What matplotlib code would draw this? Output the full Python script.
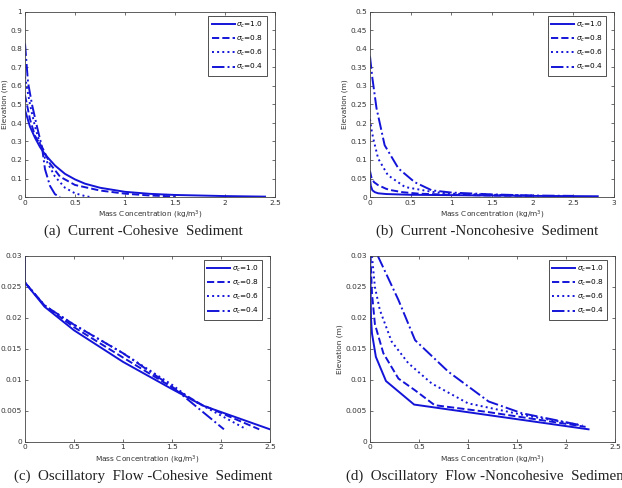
import numpy as np
import matplotlib
matplotlib.use('Agg')
from matplotlib import pyplot as plt
from matplotlib.ticker import FormatStrFormatter, MultipleLocator

# sigma_c values shown in every legend
sigmas = ['1.0', '0.8', '0.6', '0.4']
styles = ['-', '--', ':', '-.']

# (a) Current - Cohesive Sediment
a_x10 = [0, 0.05, 0.1, 0.15, 0.2, 0.3, 0.4, 0.5, 0.6, 0.75, 1.0, 1.25, 1.5, 2.0, 2.4]
a_y10 = [0.47, 0.38, 0.32, 0.27, 0.23, 0.17, 0.125, 0.095, 0.072, 0.05, 0.028, 0.017, 0.011, 0.005, 0.002]
a_x08 = [0, 0.05, 0.1, 0.18, 0.25, 0.35, 0.5, 0.75, 1.0, 1.25, 1.5]
a_y08 = [0.55, 0.42, 0.33, 0.26, 0.18, 0.11, 0.065, 0.035, 0.018, 0.008, 0.003]
a_x06 = [0, 0.05, 0.1, 0.15, 0.2, 0.3, 0.4, 0.5, 0.6, 0.65]
a_y06 = [0.65, 0.5, 0.38, 0.29, 0.21, 0.11, 0.05, 0.02, 0.005, 0.0]
a_x04 = [0, 0.03, 0.07, 0.12, 0.17, 0.2, 0.25, 0.3, 0.35]
a_y04 = [0.83, 0.62, 0.5, 0.38, 0.27, 0.15, 0.06, 0.015, 0.0]

# (b) Current - Noncohesive Sediment
b_x10 = [0, 0.01, 0.03, 0.06, 0.1, 0.2, 0.5, 1.0, 2.0, 2.8]
b_y10 = [0.05, 0.03, 0.018, 0.013, 0.01, 0.008, 0.006, 0.005, 0.003, 0.002]
b_x08 = [0, 0.02, 0.05, 0.1, 0.2, 0.27, 0.4, 0.6, 1.0, 1.5, 2.0]
b_y08 = [0.07, 0.05, 0.04, 0.032, 0.022, 0.018, 0.013, 0.009, 0.006, 0.004, 0.003]
b_x06 = [0, 0.02, 0.04, 0.1, 0.22, 0.43, 0.76, 1.0, 1.5, 2.0]
b_y06 = [0.21, 0.18, 0.158, 0.104, 0.059, 0.027, 0.014, 0.009, 0.006, 0.004]
b_x04 = [0, 0.03, 0.08, 0.18, 0.35, 0.55, 0.76, 1.0, 1.5, 2.0, 2.5]
b_y04 = [0.38, 0.32, 0.24, 0.14, 0.077, 0.04, 0.018, 0.012, 0.007, 0.004, 0.003]

# (c) Oscillatory Flow - Cohesive Sediment
c_x10 = [0, 0, 0.2, 0.5, 1.0, 1.5, 1.82, 2.5]
c_y10 = [0.03, 0.0257, 0.0218, 0.018, 0.0129, 0.0085, 0.0058, 0.002]
c_x08 = [0, 0, 0.2, 0.5, 1.0, 1.5, 1.8, 2.39]
c_y08 = [0.03, 0.0257, 0.022, 0.0185, 0.0136, 0.0088, 0.006, 0.002]
c_x06 = [0, 0, 0.2, 0.5, 1.0, 1.5, 1.7, 2.26]
c_y06 = [0.03, 0.0257, 0.022, 0.0189, 0.0143, 0.0092, 0.0068, 0.002]
c_x04 = [0, 0, 0.2, 0.5, 1.0, 1.5, 1.6, 2.03]
c_y04 = [0.03, 0.0257, 0.022, 0.0189, 0.0143, 0.0089, 0.0076, 0.002]

# (d) Oscillatory Flow - Noncohesive Sediment
d_x10 = [0.002, 0.01, 0.02, 0.06, 0.163, 0.45, 2.23]
d_y10 = [0.03, 0.02, 0.0175, 0.0137, 0.0098, 0.006, 0.002]
d_x08 = [0.005, 0.02, 0.05, 0.136, 0.29, 0.46, 0.66, 1.2, 2.2]
d_y08 = [0.03, 0.024, 0.019, 0.0143, 0.0102, 0.0083, 0.0059, 0.0048, 0.0024]
d_x06 = [0.02, 0.05, 0.1, 0.22, 0.39, 0.63, 1.0, 1.6, 2.17]
d_y06 = [0.03, 0.025, 0.0213, 0.0162, 0.0127, 0.0094, 0.0062, 0.0042, 0.0026]
d_x04 = [0.08, 0.29, 0.46, 0.8, 1.21, 1.55, 2.14]
d_y04 = [0.03, 0.0229, 0.0164, 0.0113, 0.0065, 0.0046, 0.0027]

captions = ['(a)  Current -Cohesive  Sediment',
            '(b)  Current -Noncohesive  Sediment',
            '(c)  Oscillatory  Flow -Cohesive  Sediment',
            '(d)  Oscillatory  Flow -Noncohesive  Sediment']

panels = [
    ([a_x10, a_x08, a_x06, a_x04], [a_y10, a_y08, a_y06, a_y04], 2.5, 1.0, 0.1),
    ([b_x10, b_x08, b_x06, b_x04], [b_y10, b_y08, b_y06, b_y04], 3.0, 0.5, 0.05),
    ([c_x10, c_x08, c_x06, c_x04], [c_y10, c_y08, c_y06, c_y04], 2.5, 0.03, 0.005),
    ([d_x10, d_x08, d_x06, d_x04], [d_y10, d_y08, d_y06, d_y04], 2.5, 0.03, 0.005),
]

rects = [[25/622, 291/488, 250/622, 185/488],
         [370/622, 291/488, 244/622, 185/488],
         [25/622, 46.3/488, 245/622, 185.7/488],
         [370/622, 46.3/488, 245/622, 185.7/488]]

cap_pos = [(0.230, 0.527, 'center'), (0.783, 0.527, 'center'),
           (0.230, 0.024, 'center'), (0.556, 0.024, 'left')]

blue = '#1414d8'
fs = 5.3

fig = plt.figure(figsize=(6.22, 4.88), dpi=100)
for k in range(4):
    xs, ys, xmax, ymax, ystep = panels[k]
    ax = fig.add_axes(rects[k])
    for i in range(4):
        ax.plot(xs[i], ys[i], linestyle=styles[i], color=blue, lw=1.4,
                label=r'$\sigma_c$=' + sigmas[i])
    ax.set_xlim(0, xmax)
    ax.set_ylim(0, ymax)
    ax.xaxis.set_major_locator(MultipleLocator(0.5))
    ax.yaxis.set_major_locator(MultipleLocator(ystep))
    ax.xaxis.set_major_formatter(FormatStrFormatter('%g'))
    ax.yaxis.set_major_formatter(FormatStrFormatter('%g'))
    ax.tick_params(direction='in', top=True, right=True, labelsize=fs,
                   length=2.5, width=0.5, pad=2, colors='#333333')
    for s in ax.spines.values():
        s.set_linewidth(0.6)
        s.set_color('#444444')
    ax.set_xlabel('Mass Concentration (kg/m$^3$)', fontsize=fs, labelpad=2, color='#333333')
    ax.set_ylabel('Elevation (m)', fontsize=fs, labelpad=2, color='#333333')
    leg = ax.legend(loc='upper right', bbox_to_anchor=(0.975, 0.988), fontsize=fs,
                    handlelength=3.1, labelspacing=0.55, borderpad=0.5,
                    handletextpad=0.2, borderaxespad=0.2, fancybox=False,
                    framealpha=1, edgecolor='#333333')
    leg.get_frame().set_linewidth(0.6)
    x, y, ha = cap_pos[k]
    fig.text(x, y, captions[k], ha=ha, va='center', fontsize=10.8,
             family='Liberation Serif', color='#222222')

plt.savefig('out.png', dpi=100)
